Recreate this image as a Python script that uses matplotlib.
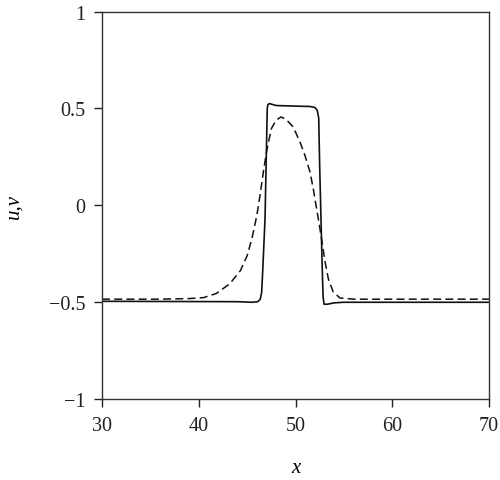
import matplotlib
matplotlib.use("Agg")
import matplotlib.pyplot as plt

# ── DATA ────────────────────────────────────────────────────────────────────
u_x = [30, 44, 45.5, 46.1, 46.35, 46.5, 46.6, 46.85, 47.0, 47.08, 47.15, 47.3,
       48, 50, 51.5, 52.0, 52.25, 52.4, 52.5, 52.6, 52.75, 52.85, 52.95, 53.3,
       54, 55, 70]
u_y = [-0.495, -0.497, -0.5, -0.497, -0.485, -0.45, -0.35, -0.07, 0.3, 0.5,
       0.52, 0.525, 0.515, 0.512, 0.51, 0.505, 0.49, 0.45, 0.2, 0.0, -0.3,
       -0.47, -0.51, -0.51, -0.503, -0.5, -0.5]

v_x = [30, 36, 39, 40.5, 41.8, 43.2, 44.3, 45.0, 45.5, 46.0, 46.33, 46.67,
       47.0, 47.5, 48.0, 48.5, 49.0, 49.77, 50.47, 50.98, 51.5, 51.84, 52.12,
       52.36, 52.7, 53.05, 53.4, 53.9, 54.6, 56, 70]
v_y = [-0.484, -0.484, -0.481, -0.476, -0.455, -0.405, -0.337, -0.26, -0.17,
       -0.053, 0.05, 0.17, 0.275, 0.395, 0.44, 0.456, 0.445, 0.404, 0.326,
       0.257, 0.172, 0.085, 0.0, -0.07, -0.175, -0.29, -0.38, -0.447, -0.478,
       -0.484, -0.484]

x_ticks = [30, 40, 50, 60, 70]
y_ticks = [-1, -0.5, 0, 0.5, 1]
y_ticklabels = ["\u22121", "\u22120.5", "0", "0.5", "1"]

# ── STYLE ───────────────────────────────────────────────────────────────────
plt.rcParams["font.family"] = ["Liberation Serif", "DejaVu Serif"]
plt.rcParams["font.size"] = 14

fig = plt.figure(figsize=(5.0, 4.81), dpi=100)
ax = fig.add_axes([0.204, 0.168, 0.774, 0.806])

ax.plot(u_x, u_y, color="#111111", lw=1.2)
ax.plot(v_x, v_y, color="#111111", lw=1.1, ls="--", dashes=(5.2, 2.8))

ax.set_xlim(30, 70)
ax.set_ylim(-1, 1)
ax.set_xticks(x_ticks)
ax.set_xticklabels([str(t) for t in x_ticks])
ax.set_yticks(y_ticks)
ax.set_yticklabels(y_ticklabels)

ax.tick_params(direction="out", length=6, width=1.0, pad=6, colors="#222222",
               labelcolor="#222222", labelsize=14.5)
for s in ax.spines.values():
    s.set_color("#333333")
    s.set_linewidth(1.0)

ax.set_xlabel("x", style="italic", fontsize=15, labelpad=17)
ax.set_ylabel("u,v", style="italic", fontsize=15, labelpad=18)

fig.savefig("out.png", dpi=100)
